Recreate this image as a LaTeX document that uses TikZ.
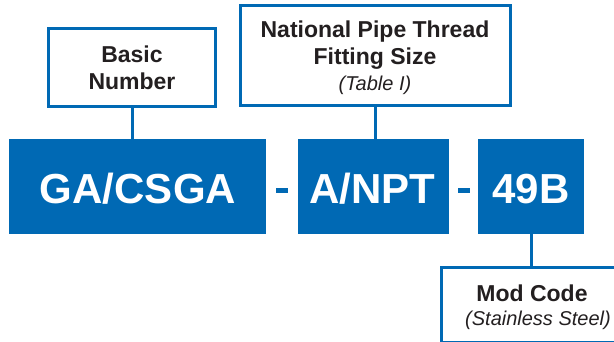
\documentclass[tikz,border=0pt]{standalone}
\usepackage{fontspec}
\setmainfont{Liberation Sans}
\definecolor{pblue}{HTML}{0069B4}
\definecolor{ink}{HTML}{231F20}
\tikzset{
  x=1pt, y=-1pt,
  outlinebox/.style={draw=pblue, line width=3pt, fill=white, rectangle, inner sep=0pt},
  codebox/.style={fill=pblue, rectangle, inner sep=0pt},
  codetext/.style={anchor=base, inner sep=0pt, text=white, font=\bfseries\fontsize{42}{48}\selectfont},
  boldlbl/.style={anchor=base, inner sep=0pt, text=ink, font=\bfseries\fontsize{23}{27}\selectfont},
  itlbl/.style={anchor=base, inner sep=0pt, text=ink, font=\itshape\fontsize{20}{24}\selectfont},
  conn/.style={draw=pblue, line width=3pt},
  dashbar/.style={fill=pblue, rectangle, inner sep=0pt, minimum width=12pt, minimum height=5.6pt}
}
\begin{document}
\begin{tikzpicture}
\useasboundingbox (0,0) rectangle (614,341);
\clip (0,0) rectangle (614,341);
% upper label boxes
\node[outlinebox, minimum width=167pt, minimum height=78pt] (basic) at (132,67.5) {};
\node[outlinebox, minimum width=270pt, minimum height=100pt] (npt) at (375,55) {};
\node[boldlbl] (basicA) at (132,62.7) {Basic};
\node[boldlbl] (basicB) at (132,89) {Number};
\node[boldlbl] (nptA) at (375,37.3) {National Pipe Thread};
\node[boldlbl] (nptB) at (375,64) {Fitting Size};
\node[itlbl] (nptC) at (375,90) {(Table I)};
% code boxes
\node[codebox, minimum width=256.4pt, minimum height=95pt] (ga) at (137.5,186.5) {};
\node[codebox, minimum width=150.7pt, minimum height=95pt] (anpt) at (373.65,186.5) {};
\node[codebox, minimum width=105.7pt, minimum height=95pt] (mod) at (531.15,186.5) {};
\node[codetext] (gaT) at (138,203.3) {GA/CSGA};
\node[codetext] (anptT) at (372,203.3) {A/NPT};
\node[codetext] (modT) at (531,203.3) {49B};
\node[dashbar] (d1) at (282,190.5) {};
\node[dashbar] (d2) at (463.8,190.5) {};
% lower label box
\node[outlinebox, minimum width=187pt, minimum height=75pt] (modcode) at (535,305) {};
\node[boldlbl] (modA) at (532,301.7) {Mod Code};
\node[itlbl] (modB) at (538,325) {(Stainless Steel)};
% connectors
\draw[conn] (basic.south) -- (basic.south |- ga.north);
\draw[conn] (npt.south) -- (npt.south |- anpt.north);
\draw[conn] (mod.south) -- (mod.south |- modcode.north);
\end{tikzpicture}
\end{document}
